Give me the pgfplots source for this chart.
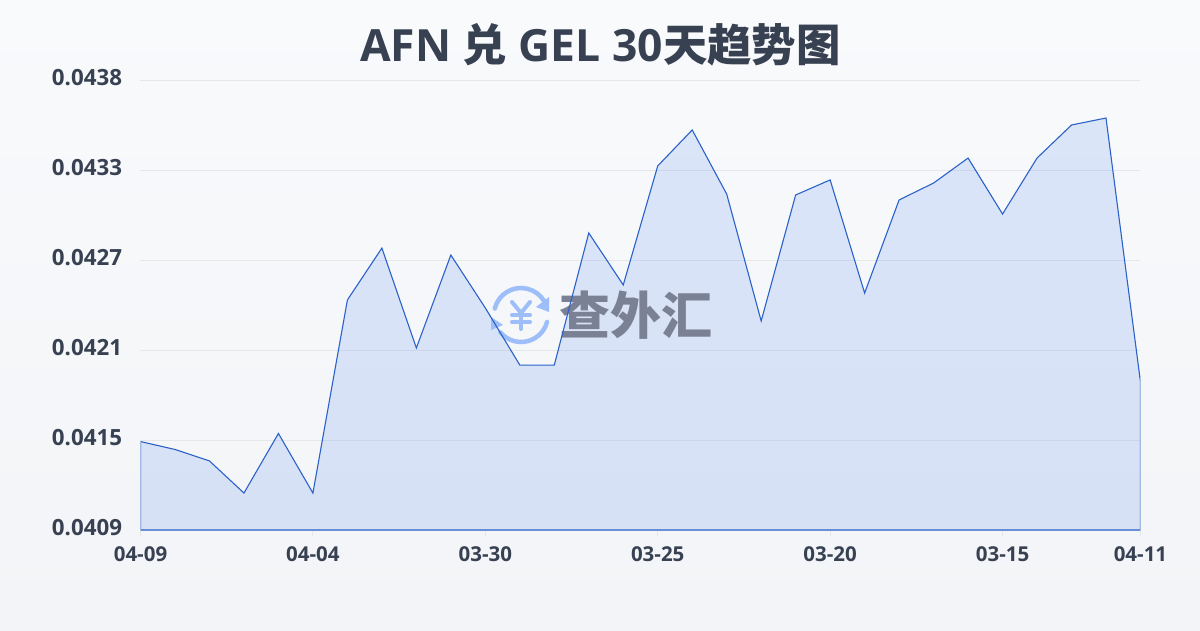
\documentclass[border=0pt]{standalone}
\usepackage{pgfplots}
\pgfplotsset{compat=1.18}
\usepackage{pgfplotstable}
\usepackage{fontspec}
\setmainfont{Open Sans}
\newfontfamily\cjk{Noto Sans CJK SC}
\definecolor{txt}{HTML}{374151}
\definecolor{ttl}{HTML}{374151}
\definecolor{gridc}{HTML}{E5E7EB}
\definecolor{lineb}{HTML}{2B62C9}
\definecolor{fillb}{HTML}{2563EB}
\definecolor{logob}{HTML}{9DBEF8}
\definecolor{wm}{HTML}{7A8194}
\definecolor{bgt}{HTML}{F8FAFC}
\definecolor{bgb}{HTML}{F2F4F7}
\pgfplotstableread{
i v
0 0.04147
1 0.041419
2 0.041345
3 0.041138
4 0.041522
5 0.041138
6 0.042382
7 0.042717
8 0.042073
9 0.042672
10 0.042331
11 0.041963
12 0.041963
13 0.042814
14 0.042479
15 0.043246
16 0.043478
17 0.043065
18 0.042247
19 0.043059
20 0.043156
21 0.042427
22 0.043027
23 0.043136
24 0.043297
25 0.042936
26 0.043297
27 0.04351
28 0.043555
29 0.041854
}\ratedata
\pgfplotsset{base/.style={
  scale only axis, width=1000pt, height=450pt,
  at={(140.5pt,100pt)}, anchor=south west,
  xmin=0, xmax=29, ymin=0.0409, ymax=0.0438}}
\begin{document}
\begin{tikzpicture}[x=1pt,y=1pt]
\useasboundingbox (0,0) rectangle (1200,630);
\shade[top color=bgt,bottom color=bgb] (0,0) rectangle (1200,630);
\begin{axis}[base,
  axis line style={draw=none},
  xtick={0,5,10,15,20,25,29},
  xticklabels={04-09,04-04,03-30,03-25,03-20,03-15,04-11},
  ytick={0.0409,0.04148,0.04206,0.04264,0.04322,0.0438},
  yticklabels={0.0409,0.0415,0.0421,0.0427,0.0433,0.0438},
  scaled y ticks=false,
  ymajorgrids, major grid style={gridc,line width=1pt},
  tick style={gridc,line width=1pt},
  major tick length=6pt,
  xtick pos=bottom, ytick style={draw=none},
  tick align=outside,
  xticklabel style={font=\fontsize{20.5}{20.5}\selectfont\bfseries,text=txt,yshift=-7pt},
  yticklabel style={font=\fontsize{22.3}{22.3}\selectfont\bfseries,text=txt,xshift=-9pt,yshift=2pt},
]
\addplot[draw=none,fill=fillb,fill opacity=0.135] table[x=i,y=v] {\ratedata} \closedcycle;
\end{axis}
% watermark
\begin{scope}[shift={(521,315)},line cap=round,line width=4.5pt]
\draw[logob] (166:27) arc[start angle=166,end angle=30,radius=27];
\fill[logob] (28,18) -- (28,3) -- (15,8) -- cycle;
\draw[logob] (-15:27) arc[start angle=-15,end angle=-140,radius=27];
\fill[logob] (-30,-2) -- (-30,-15) -- (-18,-10) -- cycle;
\draw[logob,line width=4pt] (-9,13) -- (0,2) -- (9,13);
\draw[logob,line width=4pt] (-9,0) -- (9,0);
\draw[logob,line width=4pt] (-9,-7) -- (9,-7);
\draw[logob,line width=4pt] (0,2) -- (0,-14);
\end{scope}
\node[anchor=center,text=wm,inner sep=0pt] at (636,315) {\fontsize{51}{51}\selectfont\cjk\bfseries 查外汇};
\begin{axis}[base,hide axis]
\addplot[draw=lineb,line width=1.1pt,fill=none] table[x=i,y=v] {\ratedata} \closedcycle;
\end{axis}
\node[text=ttl,inner sep=0pt] at (600.5,585) {\fontsize{44.4}{44.4}\selectfont\bfseries AFN {\cjk 兑} GEL 30{\cjk 天趋势图}};
\end{tikzpicture}
\end{document}
